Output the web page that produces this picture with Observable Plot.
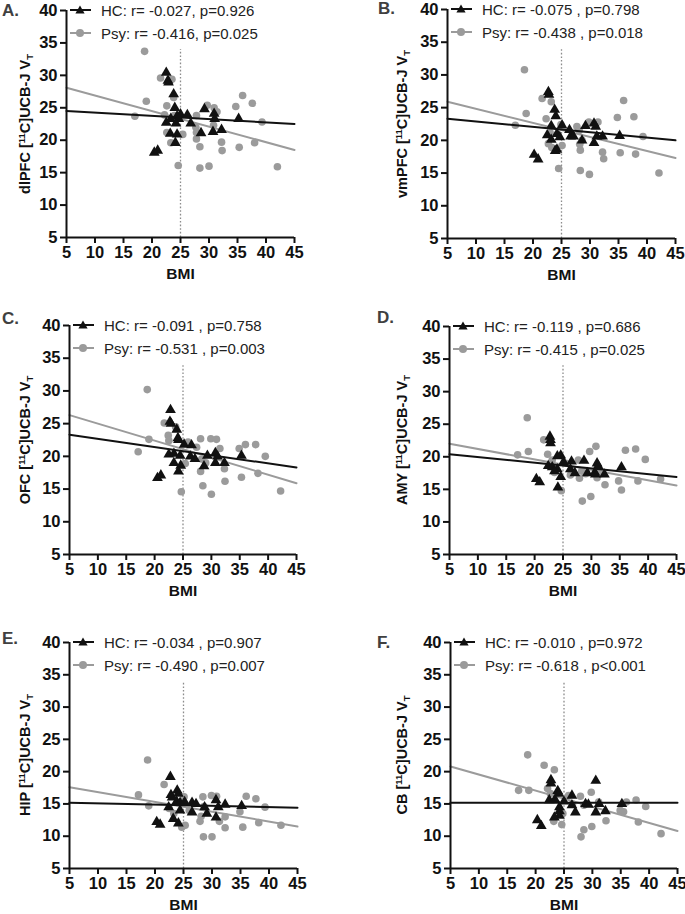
<!DOCTYPE html>
<html><head><meta charset="utf-8">
<script src="https://cdn.jsdelivr.net/npm/d3@7"></script>
<script src="https://cdn.jsdelivr.net/npm/@observablehq/plot@0.6"></script>
<style>
body{margin:0;background:#fff;font-family:"Liberation Sans",Arial,sans-serif;}
#page{position:relative;width:685px;height:914px;overflow:hidden;background:#fff;}
.panel{position:absolute;}
.panel svg{overflow:visible;max-width:none !important;display:block;}
.panel svg text{font-weight:bold !important;font-family:"Liberation Sans",Arial,sans-serif !important;fill:#111;}
.panel svg g[aria-label$="tick label"] text{font-size:16.5px !important;}
.plabel{position:absolute;font-weight:bold;font-size:17px;color:#404040;line-height:1;}
.ylab{position:absolute;font-weight:bold;font-size:14.5px;white-space:nowrap;transform:translate(-50%,-50%) rotate(-90deg);color:#111;line-height:1;}
.ylab sup{font-size:9.5px;vertical-align:5px;}
.ylab sub{font-size:9.5px;vertical-align:-3px;}
.legend{position:absolute;font-size:15px;color:#222;}
.legend .row{display:flex;align-items:center;height:23px;white-space:nowrap;}
.legend svg{margin-right:10px;}
</style></head><body><div id="page"></div><script>
// ---- data ----
const BMI_TICKS = [5, 10, 15, 20, 25, 30, 35, 40, 45];
const VT_TICKS = [5, 10, 15, 20, 25, 30, 35, 40];
const BMI_DOMAIN = [5, 45];
const VT_DOMAIN = [5, 40];
const REF_BMI = 25;          // dotted reference line
const REF_TOP = 34;          // top of dotted reference line
const FIT_X = [5, 45];       // regression lines span

const regions = ["dlPFC", "vmPFC", "OFC", "AMY", "HIP", "CB"];
const panelLetters = ["A.", "B.", "C.", "D.", "E.", "F."];
const hcLegend = ["HC: r= -0.027, p=0.926", "HC: r= -0.075 , p=0.798", "HC: r= -0.091 , p=0.758",
  "HC: r= -0.119 , p=0.686", "HC: r= -0.034 , p=0.907", "HC: r= -0.010 , p=0.972"];
const psyLegend = ["Psy: r= -0.416, p=0.025", "Psy: r= -0.438 , p=0.018", "Psy: r= -0.531 , p=0.003",
  "Psy: r= -0.415 , p=0.025", "Psy: r= -0.490 , p=0.007", "Psy: r= -0.618 , p<0.001"];

// fitted line values at BMI 5 and 45
const fitHC = [[24.5, 22.5], [23.3, 20.0], [23.3, 18.3], [20.4, 16.9], [15.2, 14.4], [15.2, 15.2]];
const fitPsy = [[28.1, 18.5], [25.9, 17.3], [26.3, 15.9], [22.0, 15.6], [17.6, 11.5], [20.8, 10.8]];

// [BMI, VT] pairs
const hcA = [[22.5,30.4],[22.8,29.2],[22.9,28.9],[23.8,27.1],[24.0,25.0],[25.0,24.0],[24.4,23.7],[26.2,23.9],[29.2,24.8],[30.9,24.1],[31.0,23.3],[35.2,23.3],[22.5,22.7],[23.3,23.3],[24.2,22.6],[24.7,23.3],[26.8,22.6],[23.2,21.0],[24.4,20.9],[24.1,19.6],[28.6,21.1],[30.7,21.3],[32.2,21.6],[20.4,18.1],[21.0,18.4]];
const psyA = [[17.0,23.7],[18.7,33.7],[19.0,26.0],[21.5,29.6],[22.2,23.9],[22.6,25.3],[22.6,21.2],[23.5,29.4],[23.8,26.6],[23.3,19.6],[23.9,23.8],[24.6,16.1],[25.4,20.9],[27.8,23.8],[27.7,22.0],[27.8,21.2],[27.8,20.2],[28.4,19.0],[28.4,15.7],[29.7,25.4],[30.0,16.0],[30.9,25.0],[31.4,24.4],[30.8,22.3],[32.2,19.7],[32.3,18.4],[34.7,25.2],[35.3,18.9],[35.9,26.9],[37.6,25.7],[38.0,19.6],[39.3,22.8],[42.0,15.9]];
const hcB = [[22.7,27.4],[22.8,27.0],[23.8,24.7],[24.0,23.7],[23.2,22.2],[22.5,20.8],[23.2,20.1],[24.2,21.0],[24.7,20.5],[24.2,18.6],[23.9,18.4],[25.1,22.3],[26.4,21.6],[26.6,20.6],[27.1,20.6],[28.6,20.0],[29.2,22.2],[30.7,22.6],[31.0,22.1],[30.7,19.6],[31.2,20.6],[32.2,20.6],[35.2,20.7],[20.2,17.8],[20.9,17.1]];
const psyB = [[18.5,30.8],[21.6,26.4],[23.2,25.9],[18.8,24.1],[16.9,22.3],[22.3,23.3],[23.0,21.2],[22.7,19.5],[23.3,18.9],[25.1,19.2],[24.5,15.7],[24.9,22.4],[27.7,22.1],[28.1,21.5],[28.6,20.0],[28.2,19.4],[28.3,18.5],[29.8,22.8],[31.4,22.8],[28.3,15.4],[29.9,14.8],[32.2,18.2],[32.4,17.2],[34.8,23.5],[35.3,18.1],[35.9,26.1],[37.7,23.6],[38.0,17.9],[39.3,20.6],[42.1,15.0]];
const hcC = [[22.8,27.1],[22.7,25.3],[22.9,25.0],[23.9,24.1],[24.1,22.8],[24.2,22.5],[25.2,21.8],[26.5,21.7],[22.5,20.3],[23.4,20.4],[24.5,20.1],[23.4,19.0],[24.6,18.6],[24.2,17.7],[26.3,20.0],[27.1,19.6],[29.3,20.1],[28.7,18.5],[30.7,20.5],[31.1,20.0],[30.7,19.0],[32.3,19.0],[35.3,20.1],[20.5,16.7],[21.1,17.1]];
const psyC = [[18.7,30.2],[17.1,20.7],[19.0,22.6],[21.7,25.1],[22.4,23.2],[22.5,22.4],[23.7,24.5],[25.4,18.9],[24.7,14.6],[25.9,22.2],[28.1,22.7],[27.4,21.4],[29.9,22.7],[30.9,22.6],[31.5,21.2],[28.3,19.6],[28.1,17.7],[28.5,15.5],[30.0,14.2],[29.0,19.0],[32.3,18.1],[32.4,16.2],[34.9,21.2],[35.3,16.8],[36.0,21.8],[37.8,21.8],[38.2,17.4],[39.5,20.0],[42.2,14.7]];
const hcD = [[22.7,23.1],[22.8,22.6],[22.8,22.1],[24.0,20.1],[24.6,20.2],[22.4,18.6],[23.1,18.4],[24.0,18.1],[23.5,17.8],[25.1,19.2],[26.5,19.3],[28.7,19.4],[31.0,19.0],[31.2,18.6],[35.3,18.4],[26.3,18.1],[27.1,17.5],[29.3,17.5],[30.6,17.6],[30.7,17.3],[32.3,17.3],[24.6,16.9],[24.1,15.3],[20.3,16.6],[20.9,16.1]];
const psyD = [[18.7,26.0],[17.0,20.3],[18.9,20.8],[21.6,22.6],[22.3,20.4],[23.5,17.6],[24.7,14.8],[25.5,19.0],[27.7,19.5],[27.9,16.7],[29.0,17.4],[29.7,20.8],[30.8,21.6],[31.0,16.8],[31.6,17.4],[28.4,13.2],[29.9,13.9],[32.4,15.7],[34.8,16.3],[35.3,14.9],[36.0,21.0],[37.8,21.2],[38.2,16.3],[39.5,19.6],[42.2,16.6],[23.1,19.5],[26.3,17.2],[28.3,17.8]];
const hcE = [[22.7,19.2],[22.8,16.4],[23.0,16.0],[23.9,17.1],[24.1,16.6],[23.8,15.4],[24.4,15.2],[25.2,15.3],[26.5,15.2],[27.2,15.0],[30.7,15.6],[31.1,14.5],[32.3,14.9],[35.2,14.7],[22.4,14.5],[24.4,14.0],[26.5,13.7],[29.1,13.5],[28.7,14.5],[30.7,12.9],[23.2,12.7],[24.1,12.0],[20.3,12.2],[20.9,11.8]];
const psyE = [[18.7,21.8],[17.1,16.4],[18.9,14.7],[21.6,18.0],[22.5,14.3],[24.7,11.4],[25.3,11.7],[25.1,16.1],[28.4,16.1],[29.9,16.3],[30.8,16.2],[28.5,9.9],[30.0,9.9],[28.1,13.1],[27.9,12.3],[32.3,13.0],[32.3,11.3],[31.3,12.3],[34.9,13.8],[35.4,11.4],[36.0,16.2],[37.7,15.8],[38.2,12.1],[39.3,14.5],[42.1,11.7],[28.6,14.6],[23.3,13.5],[26.0,14.0]];
const hcF = [[22.7,18.7],[22.7,18.2],[30.6,18.6],[23.9,17.0],[24.1,16.6],[26.4,16.3],[22.4,15.6],[23.4,15.7],[25.0,15.4],[26.4,14.8],[28.8,15.0],[29.3,14.9],[31.2,15.0],[35.2,15.0],[24.2,14.5],[24.2,13.9],[27.0,13.7],[30.6,13.7],[32.3,13.9],[24.2,13.2],[23.3,12.9],[20.3,12.5],[21.0,11.6]];
const psyF = [[18.6,22.6],[21.5,21.0],[23.3,20.3],[17.0,17.1],[18.8,17.1],[22.1,17.4],[25.8,16.3],[24.6,11.8],[23.2,12.3],[27.9,16.2],[29.8,16.8],[28.5,11.0],[28.0,9.9],[29.9,11.5],[31.1,15.3],[32.4,12.4],[34.9,14.0],[35.5,13.8],[36.0,15.3],[37.7,15.6],[38.1,12.2],[39.4,14.6],[42.1,10.4],[22.6,16.6],[28.5,14.8],[26.5,15.0],[24.8,13.5]];

const hcData = [hcA, hcB, hcC, hcD, hcE, hcF];
const psyData = [psyA, psyB, psyC, psyD, psyE, psyF];

// ---- layout (page pixels) ----
const frames = [ // left, top, right, bottom of plotting area
  [66, 10, 294, 237], [447, 9, 675, 238],
  [69, 325, 296, 554], [449, 326, 676, 554],
  [69, 642, 297, 868], [450, 642, 677, 868]
];
const letterPos = [[2, 2], [378, 0], [2, 310], [377, 309], [2, 630], [377, 634]];
const ylabX = [26, 403, 26, 403, 26, 403];
const ML = 70, MT = 20, MR = 30, MB = 60;

const page = document.getElementById("page");
const HC_COLOR = "#111111", PSY_COLOR = "#9b9b9b";

function legendSwatch(color, symbol) {
  const s = symbol === "triangle"
    ? `<path d="M10,1.6 L14.6,9.5 L5.4,9.5 Z" fill="${color}"/>`
    : `<circle cx="10" cy="6" r="4" fill="${color}"/>`;
  return `<svg width="21" height="12" viewBox="0 0 21 12"><line x1="0" x2="21" y1="6" y2="6" stroke="${color}" stroke-width="2"/>${s}</svg>`;
}

regions.forEach((region, i) => {
  const [l, t, r, b] = frames[i];
  const W = r - l, H = b - t;
  const fitRows = (f) => FIT_X.map((x, k) => ({x, y: f[k]}));
  const totalW = ML + W + MR, totalH = MT + H + MB;
  const plot = Plot.plot({
    width: totalW, height: totalH,
    marginLeft: ML, marginTop: MT, marginRight: MR, marginBottom: MB,
    style: {fontFamily: "'Liberation Sans', Arial, sans-serif", fontSize: "16.5px", fontWeight: "bold", background: "transparent", color: "#111", maxWidth: "none"},
    x: {domain: BMI_DOMAIN},
    y: {domain: VT_DOMAIN},
    marks: [
      Plot.ruleX([REF_BMI], {y1: VT_DOMAIN[0], y2: REF_TOP, stroke: "#8c8c8c", strokeWidth: 1.3, strokeDasharray: "1.6,2"}),
      Plot.dot(psyData[i], {x: d => d[0], y: d => d[1], r: 3.8, fill: PSY_COLOR}),
      Plot.line(fitRows(fitPsy[i]), {x: "x", y: "y", stroke: PSY_COLOR, strokeWidth: 2}),
      Plot.line(fitRows(fitHC[i]), {x: "x", y: "y", stroke: HC_COLOR, strokeWidth: 2}),
      Plot.dot(hcData[i], {x: d => d[0], y: d => d[1], r: 4.0, symbol: "triangle", fill: HC_COLOR}),
      Plot.axisX({ticks: BMI_TICKS, tickSize: 6, tickPadding: 3, strokeWidth: 2, fontSize: 16.5, label: null}),
      Plot.axisY({ticks: VT_TICKS, tickSize: 6, tickPadding: 3, strokeWidth: 2, fontSize: 16.5, label: null}),
      Plot.ruleX([BMI_DOMAIN[0]], {strokeWidth: 2, stroke: "#111"}),
      Plot.ruleY([VT_DOMAIN[0]], {strokeWidth: 2, stroke: "#111"}),
      Plot.text(["BMI"], {frameAnchor: "bottom", dy: 41, fontSize: 15.5, fontWeight: "bold", fill: "#111"})
    ]
  });
  plot.style.width = totalW + "px";
  plot.style.height = totalH + "px";
  const holder = document.createElement("div");
  holder.className = "panel";
  holder.style.left = (l - ML) + "px";
  holder.style.top = (t - MT) + "px";
  holder.style.width = totalW + "px";
  holder.style.height = totalH + "px";
  holder.appendChild(plot);
  page.appendChild(holder);

  const yl = document.createElement("div");
  yl.className = "ylab";
  yl.style.left = ylabX[i] + "px";
  yl.style.top = ((t + b) / 2) + "px";
  yl.innerHTML = `${region} [<sup>11</sup>C]UCB-J V<sub>T</sub>`;
  page.appendChild(yl);

  const lt = document.createElement("div");
  lt.className = "plabel";
  lt.style.left = letterPos[i][0] + "px";
  lt.style.top = letterPos[i][1] + "px";
  lt.textContent = panelLetters[i];
  page.appendChild(lt);

  const lg = document.createElement("div");
  lg.className = "legend";
  lg.style.left = (l + 4) + "px";
  lg.style.top = (t - 11.5) + "px";
  lg.innerHTML = `<div class="row">${legendSwatch(HC_COLOR, "triangle")}<span>${hcLegend[i]}</span></div>` +
                 `<div class="row">${legendSwatch(PSY_COLOR, "circle")}<span>${psyLegend[i]}</span></div>`;
  page.appendChild(lg);
});
</script></body></html>
